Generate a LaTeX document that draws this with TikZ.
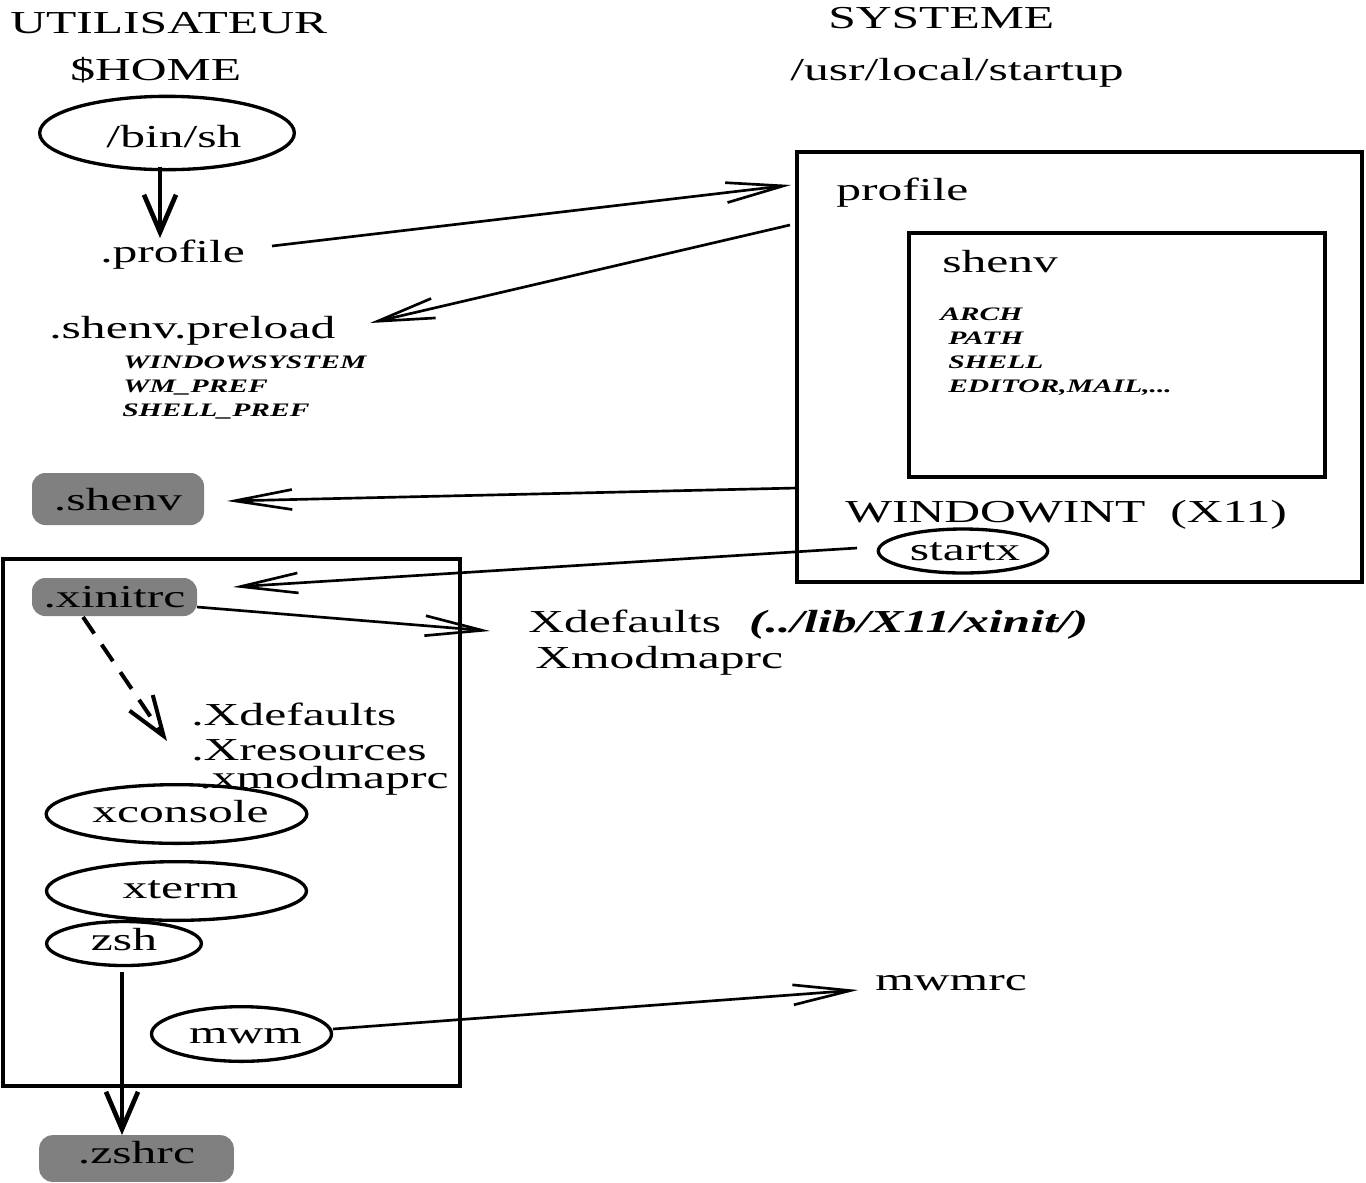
\documentclass[tikz,border=0pt]{standalone}
\usepackage{fontspec}
\setmainfont{Liberation Serif}[FakeStretch=1.55]
\usetikzlibrary{arrows.meta,shapes.geometric}
\definecolor{filegray}{RGB}{128,128,128}

\begin{document}
\begin{tikzpicture}[x=0.75pt,y=-0.75pt,
  big/.style={font=\fontsize{24pt}{28pt}\selectfont},
  txt/.style={big, anchor=base west, inner sep=0pt},
  var/.style={anchor=base west, inner sep=0pt,
    font=\fontsize{14.3pt}{17pt}\selectfont\bfseries\itshape},
  ell/.style={big, draw, ellipse, line width=2.5pt, inner sep=0pt, text depth=0pt},
  file/.style={big, fill=filegray, rounded corners=10pt, inner sep=0pt, text depth=0pt},
  frame/.style={draw, rectangle, line width=3pt, inner sep=0pt},
  arr/.style={line width=2pt, -{Straight Barb[length=43pt,width=15pt]}},
  down/.style={line width=3.5pt, -{Straight Barb[length=28pt,width=24pt]}},
  dasharr/.style={line width=3pt, dash pattern=on 15pt off 10pt,
    -{Straight Barb[length=30pt,width=21pt]}}]
\useasboundingbox (0,0) rectangle (1366,1182);

% column headings
\node[txt] (user) at (10,33) {UTILISATEUR};
\node[txt] (home) at (70,80) {\$HOME};
\node[txt] (sysname) at (828,28) {SYSTEME};
\node[txt] (sysdir) at (790,80) {/usr/local/startup};

% user side, top
\node[ell, minimum width=191pt, minimum height=55pt, text height=21pt] (binsh) at (167,133) {\hspace{10.5pt}/bin/sh};
\node[txt] (dprofile) at (100,262) {.profile};
\node[txt] (preload) at (49,338) {.shenv.preload};
\node[var] (v1) at (123,368) {WINDOWSYSTEM};
\node[var] (v2) at (123,392) {WM\_PREF};
\node[var] (v3) at (122,416) {SHELL\_PREF};
\node[file, minimum width=129pt, minimum height=39pt, text height=16.5pt] (dshenv) at (118,499) {.shenv\hspace{8pt}};

% system side
\node[frame, minimum width=423.75pt, minimum height=322.5pt] (sys) at (1079.5,367) {};
\node[txt] (profile) at (836,200) {profile};
\node[frame, line width=3.5pt, minimum width=312pt, minimum height=183pt] (shenvbox) at (1117,355) {};
\node[txt] (shenv) at (942,272) {shenv};
\node[var] (s1) at (940,320) {ARCH};
\node[var] (s2) at (948,344) {PATH};
\node[var] (s3) at (948,368) {SHELL};
\node[var] (s4) at (948,392) {EDITOR,MAIL,...};
\node[txt] (winint) at (845,522) {WINDOWINT\ \ (X11)};
\node[ell, minimum width=127pt, minimum height=33pt, text height=13.5pt] (startx) at (963,551) {\hspace{3pt}startx};

% X session
\node[frame, minimum width=342.75pt, minimum height=395.25pt] (xbox) at (231.5,822.5) {};
\node[file, minimum width=123.75pt, minimum height=28.5pt, text height=15pt] (xinitrc) at (114.5,597) {.xinitrc};
\node[txt] (xdef) at (528,632) {Xdefaults\hspace{21pt}\textbf{\textit{(../lib/X11/xinit/)}}};
\node[txt] (xmod) at (535,668) {Xmodmaprc};
\node[txt] (hxdef) at (191,725) {.Xdefaults};
\node[txt] (hxres) at (191,760) {.Xresources};
\node[txt] (hxmod) at (199,788) {.xmodmaprc};
\node[ell, minimum width=195pt, minimum height=44pt, text height=12pt] (xconsole) at (176.5,814) {\hspace{6pt}xconsole};
\node[ell, minimum width=195pt, minimum height=44pt, text height=10.5pt] (xterm) at (176.5,891) {\hspace{6pt}xterm};
\node[ell, minimum width=116pt, minimum height=33pt, text height=9.75pt] (zsh) at (124,943.5) {zsh\hspace{9pt}};
\node[ell, minimum width=135pt, minimum height=41pt, text height=13.5pt] (mwm) at (241.5,1034) {\hspace{6pt}mwm};
\node[file, minimum width=146pt, minimum height=35pt, text height=6.75pt] (zshrc) at (136.5,1158.5) {.zshrc\hspace{6pt}};
\node[txt] (mwmrc) at (875,990) {mwmrc};

% connector ends
\coordinate (shStart) at (160,167);
\coordinate (profTip) at (160,238);
\coordinate (profStart) at (272,246);
\coordinate (sysIn) at (791,185);
\coordinate (sysOut) at (790,225);
\coordinate (preloadTip) at (370,323);
\coordinate (sysLeft) at (797,488);
\coordinate (shenvTip) at (227,501);
\coordinate (startxOut) at (857,548);
\coordinate (xinitTip) at (233,587);
\coordinate (xinitOut) at (197,607);
\coordinate (xdefTip) at (490,631);
\coordinate (xinitDown) at (83,617);
\coordinate (homeXTip) at (167,741);
\coordinate (zshOut) at (122,972);
\coordinate (zshrcTip) at (122,1135);
\coordinate (mwmOut) at (333,1029);
\coordinate (mwmrcTip) at (858,990);

% connectors
\draw[down] (shStart) -- (profTip);
\draw[arr] (profStart) -- (sysIn);
\draw[arr] (sysOut) -- (preloadTip);
\draw[arr] (sysLeft) -- (shenvTip);
\draw[arr] (startxOut) -- (xinitTip);
\draw[arr] (xinitOut) -- (xdefTip);
\draw[dasharr] (xinitDown) -- (homeXTip);
\draw[down] (zshOut) -- (zshrcTip);
\draw[arr] (mwmOut) -- (mwmrcTip);
\end{tikzpicture}
\end{document}
